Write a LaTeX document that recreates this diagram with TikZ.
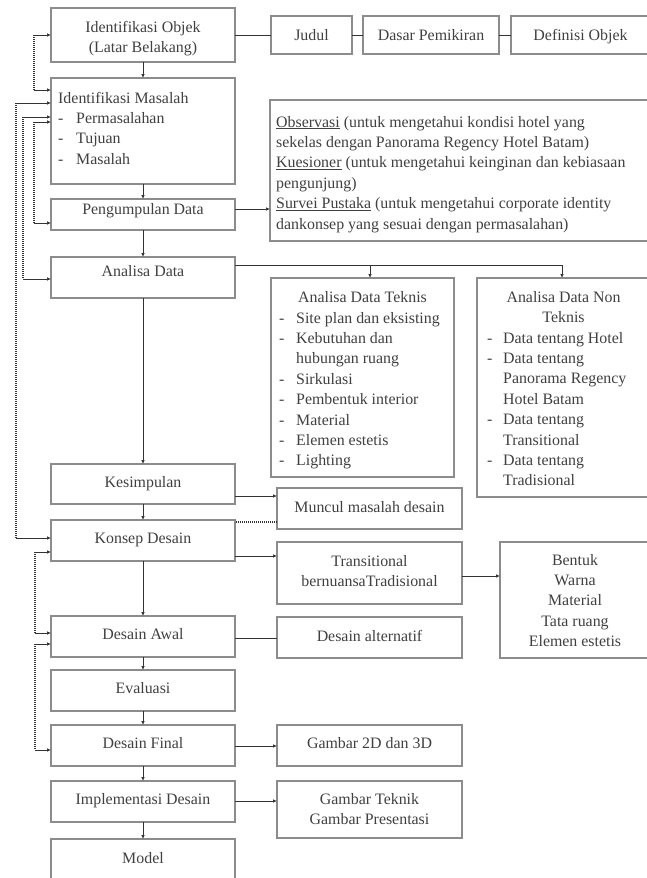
\documentclass[tikz,border=0pt]{standalone}
\usepackage{fontspec}
\setmainfont{Liberation Serif}
\usetikzlibrary{arrows.meta}
\definecolor{boxc}{HTML}{8C8C8C}
\definecolor{txtc}{HTML}{404040}
\definecolor{linec}{HTML}{333333}
\newcommand\mkbox[5]{\node[box, minimum width={(#4-#2)*1pt}, minimum height={(#5-#3)*1pt}] (#1) at ({(#2+#4)/2},{(#3+#5)/2}) {};}
\newcommand\itm[1]{\makebox[18pt][l]{-}#1}
\newcommand\itk[1]{\makebox[17pt][l]{-}#1}
\newcommand\itn[1]{\makebox[16pt][l]{-}#1}
\begin{document}
\begin{tikzpicture}[x=1pt,y=-1pt,
  box/.style={draw=boxc, line width=1.2pt, inner sep=0, outer sep=0},
  txt/.style={inner sep=0, text=txtc, font=\fontsize{15.9}{20.4}\selectfont, anchor=base},
  arr/.style={draw=linec, line width=0.7pt, -{Latex[length=4pt,width=3.5pt]}},
  ln/.style={draw=linec, line width=0.7pt},
  dots/.style={draw=linec, line width=1.1pt, dash pattern=on 1pt off 1pt},
]
\useasboundingbox (0,0) rectangle (647,878);

% boxes
\mkbox{objek}{51}{8}{235}{62}
\mkbox{masalah}{51}{78}{235}{184}
\mkbox{pengumpulan}{51}{199}{235}{230}
\mkbox{analisa}{51}{257}{235}{298}
\mkbox{kesimpulan}{51}{464}{235}{504}
\mkbox{konsep}{51}{520}{235}{561}
\mkbox{awal}{51}{616}{235}{657}
\mkbox{evaluasi}{51}{670}{235}{711}
\mkbox{final}{51}{725}{235}{766}
\mkbox{impl}{51}{781}{235}{822}
\mkbox{model}{51}{839}{235}{884}
\mkbox{judul}{271}{16}{352}{54}
\mkbox{dasar}{363}{16}{499}{54}
\mkbox{definisi}{511}{16}{650}{54}
\mkbox{obs}{270}{100}{652}{241}
\mkbox{teknis}{271}{278}{454}{477}
\mkbox{nonteknis}{477}{278}{652}{497}
\mkbox{muncul}{277}{488}{462}{529}
\mkbox{transit}{277}{542}{462}{604}
\mkbox{alt}{277}{617}{462}{658}
\mkbox{bentuk}{500}{542}{652}{658}
\mkbox{gambar}{277}{725}{462}{766}
\mkbox{gteknik}{277}{781}{462}{838}

% texts
\node[txt] at (143,32.1) {\begin{tabular}[t]{@{}c@{}}Identifikasi Objek\\(Latar Belakang)\end{tabular}};
\node[txt, anchor=base west] at (58,103.1) {\begin{tabular}[t]{@{}l@{}}Identifikasi Masalah\\\itm{Permasalahan}\\\itm{Tujuan}\\\itm{Masalah}\end{tabular}};
\node[txt] at (143,214.6) {Pengumpulan Data};
\node[txt] at (143,276.1) {Analisa Data};
\node[txt] at (143,487.1) {Kesimpulan};
\node[txt] at (143,543.1) {Konsep Desain};
\node[txt] at (143,639.1) {Desain Awal};
\node[txt] at (143,693.1) {Evaluasi};
\node[txt] at (143,748.1) {Desain Final};
\node[txt] at (143,804.1) {Implementasi Desain};
\node[txt] at (143,863.1) {Model};
\node[txt] at (311.5,40.1) {Judul};
\node[txt] at (431,40.1) {Dasar Pemikiran};
\node[txt] at (580.5,40.1) {Definisi Objek};
\node[txt, anchor=base west] at (276,127.1) {\begin{tabular}[t]{@{}l@{}}\underline{Observasi} (untuk mengetahui kondisi hotel yang\\sekelas dengan Panorama Regency Hotel Batam)\\\underline{Kuesioner} (untuk mengetahui keinginan dan kebiasaan\\pengunjung)\\\underline{Survei Pustaka} (untuk mengetahui corporate identity\\dankonsep yang sesuai dengan permasalahan)\end{tabular}};
\node[txt] at (362.5,302.1) {Analisa Data Teknis};
\node[txt, anchor=base west] at (279,323.1) {\begin{tabular}[t]{@{}l@{}}\itk{Site plan dan eksisting}\\\itk{Kebutuhan dan}\\\hspace*{17pt}hubungan ruang\\\itk{Sirkulasi}\\\itk{Pembentuk interior}\\\itk{Material}\\\itk{Elemen estetis}\\\itk{Lighting}\end{tabular}};
\node[txt] at (563.5,302.1) {\begin{tabular}[t]{@{}c@{}}Analisa Data Non\\Teknis\end{tabular}};
\node[txt, anchor=base west] at (487,343.1) {\begin{tabular}[t]{@{}l@{}}\itn{Data tentang Hotel}\\\itn{Data tentang}\\\hspace*{16pt}Panorama Regency\\\hspace*{16pt}Hotel Batam\\\itn{Data tentang}\\\hspace*{16pt}Transitional\\\itn{Data tentang}\\\hspace*{16pt}Tradisional\end{tabular}};
\node[txt] at (369.5,512.1) {Muncul masalah desain};
\node[txt] at (369.5,566.1) {\begin{tabular}[t]{@{}c@{}}Transitional\\bernuansaTradisional\end{tabular}};
\node[txt] at (369.5,641.1) {Desain alternatif};
\node[txt] at (575,565.1) {\begin{tabular}[t]{@{}c@{}}Bentuk\\Warna\\Material\\Tata ruang\\Elemen estetis\end{tabular}};
\node[txt] at (369.5,748.1) {Gambar 2D dan 3D};
\node[txt] at (369.5,804.1) {\begin{tabular}[t]{@{}c@{}}Gambar Teknik\\Gambar Presentasi\end{tabular}};

% main vertical arrows
\draw[arr] (objek) -- (masalah);
\draw[arr] (masalah) -- (pengumpulan);
\draw[arr] (pengumpulan) -- (analisa);
\draw[arr] (analisa) -- (kesimpulan);
\draw[arr] (kesimpulan) -- (konsep);
\draw[arr] (konsep) -- (awal);
\draw[arr] (awal) -- (evaluasi);
\draw[arr] (evaluasi) -- (final);
\draw[arr] (final) -- (impl);
\draw[arr] (impl) -- (model);

% top row
\draw[ln] (objek.east) -- (judul.west);
\draw[ln] (judul.east) -- (dasar.west);
\draw[ln] (dasar.east) -- (definisi.west);

% right connectors
\coordinate (r1) at (0,209);
\draw[arr] (pengumpulan.east|-r1) -- (obs.west|-r1);
\coordinate (aj1) at (370,265);
\coordinate (aj2) at (562,265);
\draw[ln] (analisa.east|-aj1) -- (aj2);
\draw[arr] (aj1) -- (aj1|-teknis.north);
\draw[arr] (aj2) -- (aj2|-nonteknis.north);
\coordinate (r2) at (0,496);
\draw[arr] (kesimpulan.east|-r2) -- (muncul.west|-r2);
\coordinate (r3) at (0,522);
\draw[dots] (muncul.west|-r3) -- (konsep.east|-r3);
\coordinate (r4) at (0,556);
\draw[arr] (konsep.east|-r4) -- (transit.west|-r4);
\coordinate (r5) at (0,576);
\draw[arr] (transit.east|-r5) -- (bentuk.west|-r5);
\coordinate (r6) at (0,638);
\draw[ln] (awal.east|-r6) -- (alt.west|-r6);
\coordinate (r7) at (0,746);
\draw[arr] (final.east|-r7) -- (gambar.west|-r7);
\coordinate (r8) at (0,801);
\draw[arr] (impl.east|-r8) -- (gteknik.west|-r8);

% left feedback loops
\coordinate (a1) at (34,35); \coordinate (a2) at (34,90);
\draw[dots] (a1) -- (a2);
\draw[arr] (a1) -- (a1-|objek.west);
\draw[arr] (a2) -- (a2-|masalah.west);
\coordinate (b1) at (16,103); \coordinate (b2) at (16,538);
\draw[dots] (b1) -- (b2);
\draw[arr] (b1) -- (b1-|masalah.west);
\draw[arr] (b2) -- (b2-|konsep.west);
\coordinate (c1) at (23,117); \coordinate (c2) at (23,279);
\draw[dots] (c1) -- (c2);
\draw[arr] (c1) -- (c1-|masalah.west);
\draw[arr] (c2) -- (c2-|analisa.west);
\coordinate (d1) at (34,122); \coordinate (d2) at (34,223);
\draw[dots] (d1) -- (d2);
\draw[arr] (d1) -- (d1-|masalah.west);
\draw[arr] (d2) -- (d2-|pengumpulan.west);
\coordinate (e1) at (35,552); \coordinate (e2) at (35,633);
\draw[dots] (e1) -- (e2);
\draw[arr] (e1) -- (e1-|konsep.west);
\draw[arr] (e2) -- (e2-|awal.west);
\coordinate (f1) at (35,644); \coordinate (f2) at (35,750);
\draw[dots] (f1) -- (f2);
\draw[arr] (f1) -- (f1-|awal.west);
\draw[arr] (f2) -- (f2-|final.west);
\end{tikzpicture}
\end{document}
